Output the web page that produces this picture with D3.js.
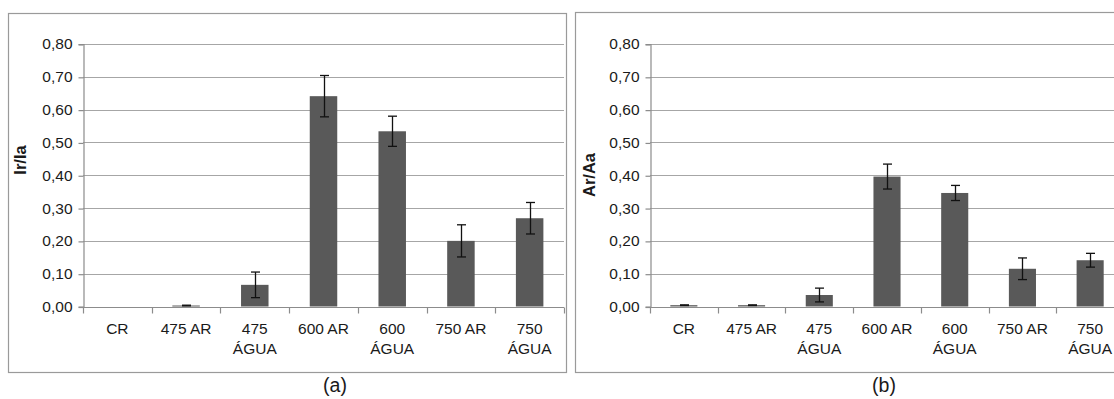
<!DOCTYPE html>
<html>
<head>
<meta charset="utf-8">
<script src="https://cdn.jsdelivr.net/npm/d3@7"></script>
<style>
  html, body { margin: 0; padding: 0; background: #fff; }
  svg { display: block; }
  text { font-family: "Liberation Sans", Arial, sans-serif; fill: #1a1a1a; }
</style>
</head>
<body>
<svg id="chart" width="1114" height="399"></svg>
<script>
// Sample groups (two-line labels where the name wraps)
const categories = ["CR", "475 AR", "475 ÁGUA", "600 AR", "600 ÁGUA", "750 AR", "750 ÁGUA"];
const categoryLines = [["CR"], ["475 AR"], ["475", "ÁGUA"], ["600 AR"], ["600", "ÁGUA"], ["750 AR"], ["750", "ÁGUA"]];

// Panel (a): Ir/Ia means and standard deviations
const irIa    = [0.000, 0.003, 0.066, 0.641, 0.534, 0.200, 0.269];
const irIaErr = [0.000, 0.001, 0.039, 0.063, 0.046, 0.049, 0.048];

// Panel (b): Ar/Aa means and standard deviations
const arAa    = [0.004, 0.004, 0.035, 0.396, 0.346, 0.115, 0.141];
const arAaErr = [0.001, 0.001, 0.021, 0.038, 0.023, 0.033, 0.021];

// Shared value axis
const yTicks = [0.0, 0.1, 0.2, 0.3, 0.4, 0.5, 0.6, 0.7, 0.8];
const yDomain = [0, 0.8];

const svg = d3.select("#chart");
const fmt = v => d3.format(".2f")(v).replace(".", ",");

function drawPanel(cfg) {
  const g = svg.append("g");

  // outer chart frame
  g.append("rect")
    .attr("x", cfg.frame[0] + 0.5).attr("y", cfg.frame[1] + 0.5)
    .attr("width", cfg.frame[2]).attr("height", cfg.frame[3])
    .attr("fill", "#fff").attr("stroke", "#9a9a9a").attr("stroke-width", 1.2);

  const x = d3.scaleBand().domain(categories)
    .range([cfg.left, cfg.right]).paddingInner(0.6).paddingOuter(0.3);
  const y = d3.scaleLinear().domain(yDomain).range([cfg.bottom, cfg.top]);

  // horizontal gridlines
  g.append("g").selectAll("line").data(yTicks.filter(t => t > 0)).join("line")
    .attr("x1", cfg.left).attr("x2", cfg.right)
    .attr("y1", d => Math.round(y(d)) + 0.5).attr("y2", d => Math.round(y(d)) + 0.5)
    .attr("stroke", "#a6a6a6").attr("stroke-width", 1.2);

  // value axis with ticks and comma-decimal labels
  const yAxis = g.append("g")
    .attr("transform", `translate(${cfg.left + 0.5},0)`)
    .call(d3.axisLeft(y).tickValues(yTicks).tickFormat(fmt).tickSize(5).tickPadding(6));
  yAxis.select(".domain").attr("stroke", "#8c8c8c").attr("stroke-width", 1.2);
  yAxis.selectAll(".tick line").attr("stroke", "#8c8c8c").attr("stroke-width", 1.2)
    .attr("transform", "translate(0,0.5)");
  yAxis.selectAll(".tick text")
    .attr("font-family", "'Liberation Sans', Arial, sans-serif")
    .attr("font-size", 15.5).attr("fill", "#1a1a1a");

  // category axis baseline and boundary ticks
  const y0 = Math.round(y(0)) + 0.5;
  g.append("line").attr("x1", cfg.left).attr("x2", cfg.right)
    .attr("y1", y0).attr("y2", y0).attr("stroke", "#8c8c8c").attr("stroke-width", 1.2);
  const boundaries = d3.range(categories.length + 1).map(i => x.range()[0] + i * x.step());
  g.append("g").selectAll("line").data(boundaries).join("line")
    .attr("x1", d => Math.round(d) + 0.5).attr("x2", d => Math.round(d) + 0.5)
    .attr("y1", y0).attr("y2", y0 + 6)
    .attr("stroke", "#8c8c8c").attr("stroke-width", 1.2);

  // bars
  g.append("g").selectAll("rect").data(cfg.values).join("rect")
    .attr("x", (d, i) => x(categories[i]))
    .attr("width", x.bandwidth())
    .attr("y", d => y(d))
    .attr("height", d => y(0) - y(d))
    .attr("fill", "#595959");

  // error bars
  const eb = g.append("g").attr("stroke", "#111").attr("stroke-width", 1.3);
  cfg.values.forEach((v, i) => {
    const e = cfg.errors[i];
    if (e <= 0) return;
    const cx = Math.round(x(categories[i]) + x.bandwidth() / 2) + 0.5;
    const yt = y(v + e), yb = y(Math.max(0, v - e));
    eb.append("line").attr("x1", cx).attr("x2", cx).attr("y1", yt).attr("y2", yb);
    eb.append("line").attr("x1", cx - 4.5).attr("x2", cx + 4.5).attr("y1", yt).attr("y2", yt);
    eb.append("line").attr("x1", cx - 4.5).attr("x2", cx + 4.5).attr("y1", yb).attr("y2", yb);
  });

  // category labels
  const lab = g.append("g").selectAll("text").data(categoryLines).join("text")
    .attr("text-anchor", "middle")
    .attr("font-size", 15.5)
    .attr("x", (d, i) => x(categories[i]) + x.bandwidth() / 2)
    .attr("y", cfg.bottom + 27);
  lab.selectAll("tspan").data(d => d).join("tspan")
    .attr("x", function () { return d3.select(this.parentNode).attr("x"); })
    .attr("dy", (d, j) => j === 0 ? 0 : 20)
    .text(d => d);

  // value-axis title
  g.append("text")
    .attr("transform", `translate(${cfg.titleX},${cfg.titleY}) rotate(-90)`)
    .attr("text-anchor", "middle")
    .attr("font-weight", "bold")
    .attr("font-size", 16.5)
    .text(cfg.title);

  // panel caption
  svg.append("text")
    .attr("x", cfg.captionX).attr("y", 392)
    .attr("text-anchor", "middle")
    .attr("font-size", 19.5)
    .text(cfg.caption);
}

drawPanel({
  frame: [8, 13, 558, 359],
  left: 83, right: 564, top: 44, bottom: 306.5,
  values: irIa, errors: irIaErr,
  title: "Ir/Ia", titleX: 26, titleY: 160,
  caption: "(a)", captionX: 335
});

drawPanel({
  frame: [575, 12, 570, 360],
  left: 650, right: 1124, top: 44, bottom: 306.5,
  values: arAa, errors: arAaErr,
  title: "Ar/Aa", titleX: 595, titleY: 175,
  caption: "(b)", captionX: 884
});
</script>
</body>
</html>
